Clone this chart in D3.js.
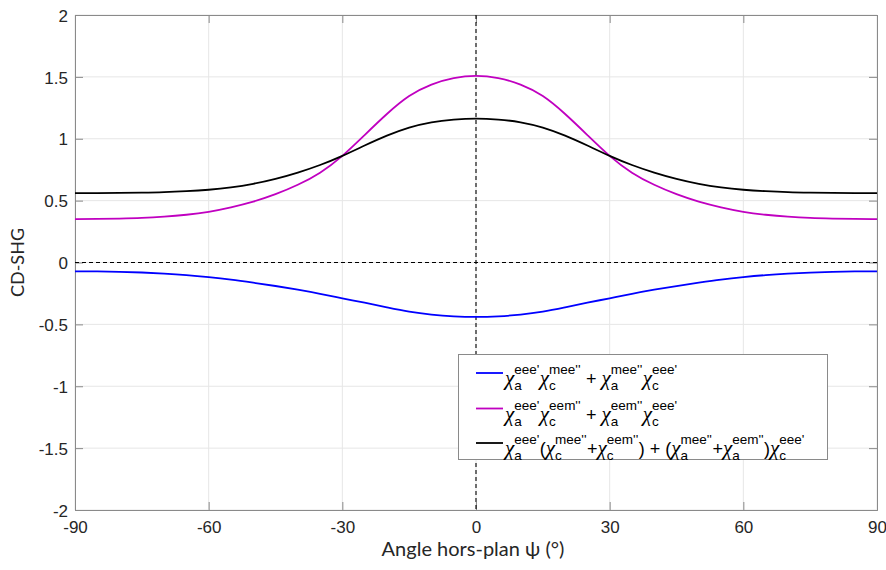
<!DOCTYPE html>
<html><head><meta charset="utf-8">
<script src="https://cdn.jsdelivr.net/npm/d3@7"></script>
<style>body{margin:0;background:#fff}</style>
</head><body>
<svg id="c" width="886" height="570"></svg>
<script>
const angles = [-90,-85,-80,-75,-70,-65,-60,-55,-50,-45,-40,-35,-30,-25,-20,-15,-10,-5,0,5,10,15,20,25,30,35,40,45,50,55,60,65,70,75,80,85,90];
const blueVals = [-0.071,-0.072,-0.075,-0.081,-0.090,-0.102,-0.118,-0.138,-0.163,-0.190,-0.220,-0.253,-0.289,-0.325,-0.362,-0.397,-0.421,-0.435,-0.440,-0.435,-0.421,-0.397,-0.362,-0.325,-0.289,-0.253,-0.220,-0.190,-0.163,-0.138,-0.118,-0.102,-0.090,-0.081,-0.075,-0.072,-0.071];
const magentaVals = [0.351,0.352,0.355,0.360,0.370,0.386,0.410,0.446,0.492,0.552,0.628,0.726,0.862,1.030,1.200,1.345,1.438,1.490,1.508,1.490,1.438,1.345,1.200,1.030,0.862,0.726,0.628,0.552,0.492,0.446,0.410,0.386,0.370,0.360,0.355,0.352,0.351];
const blackVals = [0.561,0.561,0.562,0.564,0.568,0.576,0.588,0.607,0.636,0.676,0.727,0.788,0.862,0.945,1.025,1.090,1.133,1.155,1.163,1.155,1.133,1.090,1.025,0.945,0.862,0.788,0.727,0.676,0.636,0.607,0.588,0.576,0.568,0.564,0.562,0.561,0.561];
const xTicks = [-90,-60,-30,0,30,60,90];
const yTicks = [-2,-1.5,-1,-0.5,0,0.5,1,1.5,2];
const seriesColors = ["#0000ff","#c000c0","#000000"];
// legend labels: strings are plain text, objects are stacked sub/superscripts
const legendLabels = [
  ["χ",{sub:"a",sup:"eee'"},"χ",{sub:"c",sup:"mee''"}," + ","χ",{sub:"a",sup:"mee''"},"χ",{sub:"c",sup:"eee'"}],
  ["χ",{sub:"a",sup:"eee'"},"χ",{sub:"c",sup:"eem''"}," + ","χ",{sub:"a",sup:"eem''"},"χ",{sub:"c",sup:"eee'"}],
  ["χ",{sub:"a",sup:"eee'"},"(","χ",{sub:"c",sup:"mee''"},"+","χ",{sub:"c",sup:"eem''"},") + (","χ",{sub:"a",sup:"mee''"},"+","χ",{sub:"a",sup:"eem''"},")","χ",{sub:"c",sup:"eee'"}]
];

const svg = d3.select("#c");
const L=75, R=877, T=15, B=510;
const x = d3.scaleLinear().domain([-90,90]).range([L,R]);
const y = d3.scaleLinear().domain([-2,2]).range([B,T]);
const axisCol="#8a8a8a", textCol="#262626";

// grid
svg.append("g").selectAll("line").data(xTicks).join("line")
  .attr("x1",d=>x(d)).attr("x2",d=>x(d)).attr("y1",T).attr("y2",B)
  .attr("stroke","#e6e6e6").attr("stroke-width",1);
svg.append("g").selectAll("line").data(yTicks).join("line")
  .attr("y1",d=>y(d)).attr("y2",d=>y(d)).attr("x1",L).attr("x2",R)
  .attr("stroke","#e6e6e6").attr("stroke-width",1);

// axes
const tl=8;
const gx = svg.append("g").attr("transform",`translate(0,${B})`)
  .call(d3.axisBottom(x).tickValues(xTicks).tickSize(-tl).tickPadding(10).tickFormat(d=>String(d)));
const gxt = svg.append("g").attr("transform",`translate(0,${T})`)
  .call(d3.axisTop(x).tickValues(xTicks).tickSize(-tl).tickFormat(""));
const gy = svg.append("g").attr("transform",`translate(${L},0)`)
  .call(d3.axisLeft(y).tickValues(yTicks).tickSize(-tl).tickPadding(7).tickFormat(d=>String(d)));
const gyr = svg.append("g").attr("transform",`translate(${R},0)`)
  .call(d3.axisRight(y).tickValues(yTicks).tickSize(-tl).tickFormat(""));
[gx,gxt,gy,gyr].forEach(g=>{
  g.select(".domain").attr("stroke",axisCol);
  g.selectAll(".tick line").attr("stroke",axisCol);
  g.selectAll("text").attr("fill",textCol).style("font-family","'Liberation Sans',Arial,sans-serif").style("font-size","17px");
});
gx.selectAll(".tick text").attr("dy","0.75em");
gy.selectAll(".tick text").attr("dy","0.36em");

// zero dashed lines
svg.append("line").attr("x1",L).attr("x2",R).attr("y1",y(0)).attr("y2",y(0))
  .attr("stroke","#000").attr("stroke-width",1.1).attr("stroke-dasharray","4,3");
svg.append("line").attr("x1",x(0)).attr("x2",x(0)).attr("y1",T).attr("y2",B)
  .attr("stroke","#000").attr("stroke-width",1.1).attr("stroke-dasharray","4,3");

// curves
const line = d3.line().x((d,i)=>x(angles[i])).y(d=>y(d)).curve(d3.curveNatural);
[blueVals,magentaVals,blackVals].forEach((vals,i)=>{
  svg.append("path").attr("d",line(vals)).attr("fill","none")
    .attr("stroke",seriesColors[i]).attr("stroke-width",1.8);
});

// axis labels
svg.append("text").attr("x",473).attr("y",556).attr("text-anchor","middle")
  .attr("fill",textCol).style("font-family","Lato,'Open Sans',sans-serif").style("font-size","20px")
  .text("Angle hors-plan ψ (°)");
svg.append("text").attr("transform",`translate(24,${y(0)}) rotate(-90)`).attr("text-anchor","middle")
  .attr("fill",textCol).style("font-family","Lato,'Open Sans',sans-serif").style("font-size","18px")
  .text("CD-SHG");

// legend
const lg = svg.append("g");
lg.append("rect").attr("x",458.5).attr("y",354.5).attr("width",369).attr("height",105)
  .attr("fill","#fff").attr("stroke",axisCol).attr("stroke-width",1);
const rowY=[373,408.5,443];
const fam="'Liberation Sans',Arial,sans-serif";
const chiFam="'Liberation Serif','DejaVu Serif',serif";
legendLabels.forEach((toks,i)=>{
  const ly=rowY[i];
  lg.append("line").attr("x1",476).attr("x2",503).attr("y1",ly).attr("y2",ly)
    .attr("stroke",seriesColors[i]).attr("stroke-width",1.8);
  let cx=505;
  toks.forEach(t=>{
    if(typeof t==="string"){
      const isChi = t==="χ";
      const te=lg.append("text").attr("x",cx).attr("y",ly+12).attr("fill","#000")
        .style("font-family",isChi?chiFam:fam).style("font-size",isChi?"21px":"18px")
        .style("font-style",isChi?"italic":"normal")
        .style("white-space","pre").attr("xml:space","preserve").text(t);
      cx+=te.node().getComputedTextLength();
    } else {
      const s1=lg.append("text").attr("x",cx).attr("y",ly+17).attr("fill","#000")
        .style("font-family",fam).style("font-size","13.5px").text(t.sub);
      const s2=lg.append("text").attr("x",cx).attr("y",ly+1).attr("fill","#000")
        .style("font-family",fam).style("font-size","13.5px").text(t.sup);
      cx+=Math.max(s1.node().getComputedTextLength(),s2.node().getComputedTextLength())+0.5;
    }
  });
});
</script>
</body></html>
